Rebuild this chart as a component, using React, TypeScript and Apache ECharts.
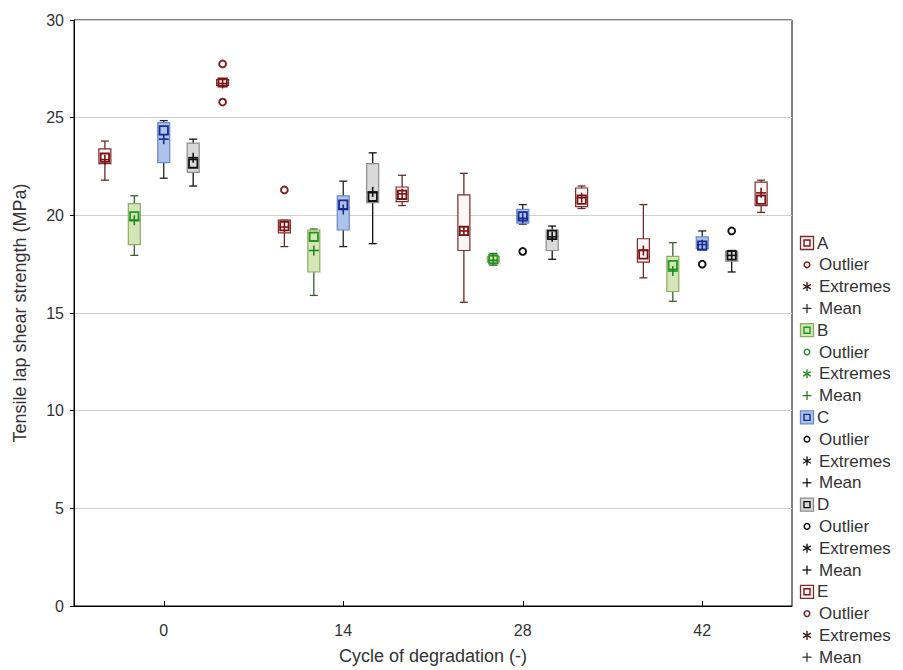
import React, { useEffect, useRef } from 'react';
import * as echarts from 'echarts';

const categories = ['0', '14', '28', '42'];
const groupNames = ['A', 'B', 'C', 'D', 'E'];

// [min, q1, median, q3, max] for each cycle
const boxA = [
  [21.8, 22.65, 22.95, 23.4, 23.8],
  [18.4, 19.1, 19.45, 19.75, 19.75],
  [15.55, 18.2, 19.2, 21.05, 22.15],
  [16.8, 17.6, 18.0, 18.8, 20.55],
];
const meanA = [22.85, 19.4, 19.2, 18.2];

const boxB = [
  [17.95, 18.5, 19.95, 20.6, 21.0],
  [15.9, 17.1, 18.9, 19.25, 19.3],
  [17.45, 17.6, 17.75, 17.9, 18.05],
  [15.6, 16.1, 17.45, 17.9, 18.6],
];
const meanB = [19.75, 18.2, 17.7, 17.15];

const boxC = [
  [21.9, 22.7, 24.35, 24.75, 24.85],
  [18.4, 19.25, 20.55, 21.0, 21.75],
  [19.55, 19.6, 19.95, 20.3, 20.55],
  [18.25, 18.3, 18.45, 18.9, 19.2],
];
const meanC = [23.9, 20.3, 19.85, 18.5];

const boxD = [
  [21.5, 22.2, 22.65, 23.7, 23.9],
  [18.55, 20.65, 20.95, 22.65, 23.2],
  [17.75, 18.2, 19.0, 19.25, 19.45],
  [17.1, 17.65, 17.95, 18.15, 18.2],
];
const meanD = [22.95, 21.2, 18.9, 17.95];

const boxE = [
  [26.6, 26.65, 26.8, 26.95, 26.95],
  [20.5, 20.7, 21.05, 21.45, 22.05],
  [20.35, 20.45, 20.8, 21.4, 21.5],
  [20.15, 20.5, 20.8, 21.7, 21.8],
];
const meanE = [26.75, 21.1, 20.9, 21.15];

// [cycle index, group index, value]
const outliers = [
  [1, 0, 21.3],
  [2, 2, 18.15],
  [3, 2, 17.5],
  [3, 3, 19.2],
  [0, 4, 27.75],
  [0, 4, 25.8],
];

const yTicks = [0, 5, 10, 15, 20, 25, 30];
const legendItems = ['Outlier', 'Extremes', 'Mean'];

const boxes = [boxA, boxB, boxC, boxD, boxE];
const means = [meanA, meanB, meanC, meanD, meanE];

const styles = [
  { fill: '#fcf6f6', stroke: '#7b2b2b', median: '#7a1414', whisker: '#6a2a2a', mean: '#7a1414', outlier: '#7a1e1e', ext: '#3a1a1a', lmean: '#333333' },
  { fill: '#d5e5b8', stroke: '#8aac62', median: '#1f9a1f', whisker: '#3d5e35', mean: '#1f8a1f', outlier: '#2a8a2a', ext: '#2a8a2a', lmean: '#2a7a2a' },
  { fill: '#adc3ea', stroke: '#6a88c8', median: '#1a2a90', whisker: '#222222', mean: '#1a2a90', outlier: '#111111', ext: '#111111', lmean: '#111111' },
  { fill: '#d9d9d9', stroke: '#8c8c8c', median: '#111111', whisker: '#111111', mean: '#111111', outlier: '#111111', ext: '#111111', lmean: '#111111' },
  { fill: '#fcf6f6', stroke: '#7b2b2b', median: '#7a1414', whisker: '#6a2a2a', mean: '#7a1414', outlier: '#7a1e1e', ext: '#3a1a1a', lmean: '#333333' },
];

const FONT = '"Liberation Sans", Arial, sans-serif';
const SLOT = 0.164;

function makeBoxRenderer(g: number) {
  return (params: any, api: any) => {
    const ci = api.value(0);
    const bw = api.size([1, 0])[0];
    const cx = api.coord([ci, 0])[0] + (g - 2) * bw * SLOT;
    const y = (k: number) => api.coord([ci, api.value(k)])[1];
    const yMin = y(1), yQ1 = y(2), yMed = y(3), yQ3 = y(4), yMax = y(5), yMean = y(6);
    const st = styles[g];
    const hw = 6, cap = 4, ms = 4.2, mp = 5;
    return {
      type: 'group',
      children: [
        { type: 'line', shape: { x1: cx, y1: yMax, x2: cx, y2: yMin }, style: { stroke: st.whisker, lineWidth: 1.3 } },
        { type: 'line', shape: { x1: cx - cap, y1: yMax, x2: cx + cap, y2: yMax }, style: { stroke: st.whisker, lineWidth: 1.3 } },
        { type: 'line', shape: { x1: cx - cap, y1: yMin, x2: cx + cap, y2: yMin }, style: { stroke: st.whisker, lineWidth: 1.3 } },
        { type: 'rect', shape: { x: cx - hw, y: yQ3, width: 2 * hw, height: Math.max(yQ1 - yQ3, 1) }, style: { fill: st.fill, stroke: st.stroke, lineWidth: 1.2 } },
        { type: 'rect', shape: { x: cx - ms, y: yMed - ms, width: 2 * ms, height: 2 * ms }, style: { fill: 'none', stroke: st.median, lineWidth: 1.8 } },
        { type: 'line', shape: { x1: cx - mp, y1: yMean, x2: cx + mp, y2: yMean }, style: { stroke: st.mean, lineWidth: 1.6 } },
        { type: 'line', shape: { x1: cx, y1: yMean - mp, x2: cx, y2: yMean + mp }, style: { stroke: st.mean, lineWidth: 1.6 } },
      ],
    };
  };
}

function renderOutlier(params: any, api: any) {
  const ci = api.value(0);
  const g = api.value(1);
  const bw = api.size([1, 0])[0];
  const p = api.coord([ci, api.value(2)]);
  const cx = p[0] + (g - 2) * bw * SLOT;
  return {
    type: 'circle',
    shape: { cx, cy: p[1], r: 3.4 },
    style: { fill: '#ffffff', stroke: styles[g].outlier, lineWidth: 1.9 },
  };
}

function buildLegend() {
  const els: any[] = [];
  const x0 = 807;
  const top = 243;
  const step = 21.8;
  let row = 0;
  groupNames.forEach((name, g) => {
    const st = styles[g];
    let yy = top + row * step;
    els.push({ type: 'rect', shape: { x: x0 - 6.5, y: yy - 6.5, width: 13, height: 13 }, style: { fill: st.fill, stroke: st.stroke, lineWidth: 1.3 } });
    els.push({ type: 'rect', shape: { x: x0 - 3, y: yy - 3, width: 6, height: 6 }, style: { fill: 'none', stroke: st.median, lineWidth: 1.4 } });
    els.push({ type: 'text', x: 817, y: yy, style: { text: name, fill: '#333333', font: '17px ' + FONT, verticalAlign: 'middle', align: 'left' } });
    row++;
    legendItems.forEach((label, k) => {
      yy = top + row * step;
      if (k === 0) {
        els.push({ type: 'circle', shape: { cx: x0, cy: yy, r: 2.8 }, style: { fill: 'none', stroke: st.outlier, lineWidth: 1.5 } });
      } else if (k === 1) {
        const r = 4.5;
        els.push({ type: 'line', shape: { x1: x0, y1: yy - r, x2: x0, y2: yy + r }, style: { stroke: st.ext, lineWidth: 1.4 } });
        els.push({ type: 'line', shape: { x1: x0 - r * 0.87, y1: yy - r * 0.5, x2: x0 + r * 0.87, y2: yy + r * 0.5 }, style: { stroke: st.ext, lineWidth: 1.4 } });
        els.push({ type: 'line', shape: { x1: x0 - r * 0.87, y1: yy + r * 0.5, x2: x0 + r * 0.87, y2: yy - r * 0.5 }, style: { stroke: st.ext, lineWidth: 1.4 } });
      } else {
        const r = 4.5;
        els.push({ type: 'line', shape: { x1: x0 - r, y1: yy, x2: x0 + r, y2: yy }, style: { stroke: st.lmean, lineWidth: 1.3 } });
        els.push({ type: 'line', shape: { x1: x0, y1: yy - r, x2: x0, y2: yy + r }, style: { stroke: st.lmean, lineWidth: 1.3 } });
      }
      els.push({ type: 'text', x: 819, y: yy, style: { text: label, fill: '#333333', font: '17px ' + FONT, verticalAlign: 'middle', align: 'left' } });
      row++;
    });
  });
  return els;
}

export default function App() {
  const ref = useRef<HTMLDivElement>(null);
  useEffect(() => {
    if (!ref.current) return;
    const chart = echarts.init(ref.current, null, { renderer: 'svg' });
    const boxSeries = boxes.map((b, g) => ({
      type: 'custom',
      name: groupNames[g],
      renderItem: makeBoxRenderer(g),
      encode: { x: 0, y: [1, 2, 3, 4, 5, 6] },
      data: b.map((v, i) => [i, ...v, means[g][i]]),
      z: 3,
    }));
    chart.setOption({
      animation: false,
      backgroundColor: '#ffffff',
      textStyle: { fontFamily: FONT },
      grid: { left: 74, right: 111, top: 20, bottom: 62, show: true, borderColor: '#000000', borderWidth: 1, backgroundColor: 'transparent' },
      xAxis: {
        type: 'category',
        data: categories,
        boundaryGap: true,
        axisLine: { show: true, lineStyle: { color: '#000000', width: 1 } },
        axisTick: { show: true, alignWithLabel: true, inside: true, length: 5, lineStyle: { color: '#000000' } },
        axisLabel: { fontSize: 16, color: '#333333', margin: 16, fontFamily: FONT },
        splitLine: { show: false },
        name: 'Cycle of degradation (-)',
        nameLocation: 'middle',
        nameGap: 41,
        nameTextStyle: { fontSize: 18, color: '#333333', fontFamily: FONT },
      },
      yAxis: {
        type: 'value',
        min: yTicks[0],
        max: yTicks[yTicks.length - 1],
        interval: 5,
        axisLine: { show: true, lineStyle: { color: '#000000', width: 1 } },
        axisTick: { show: true, inside: false, length: 4, lineStyle: { color: '#000000' } },
        axisLabel: { fontSize: 16, color: '#333333', margin: 10, fontFamily: FONT },
        splitLine: { show: true, lineStyle: { color: '#cfcfcf', width: 1 } },
        name: 'Tensile lap shear strength (MPa)',
        nameLocation: 'middle',
        nameGap: 45,
        nameTextStyle: { fontSize: 18, color: '#333333', fontFamily: FONT },
      },
      graphic: buildLegend(),
      series: [
        ...boxSeries,
        {
          type: 'custom',
          name: 'Outliers',
          renderItem: renderOutlier,
          encode: { x: 0, y: 2 },
          data: outliers,
          z: 4,
        },
      ],
    });
    return () => chart.dispose();
  }, []);
  return <div ref={ref} style={{ position: 'absolute', left: 0, top: 0, width: 903, height: 670 }} />;
}
